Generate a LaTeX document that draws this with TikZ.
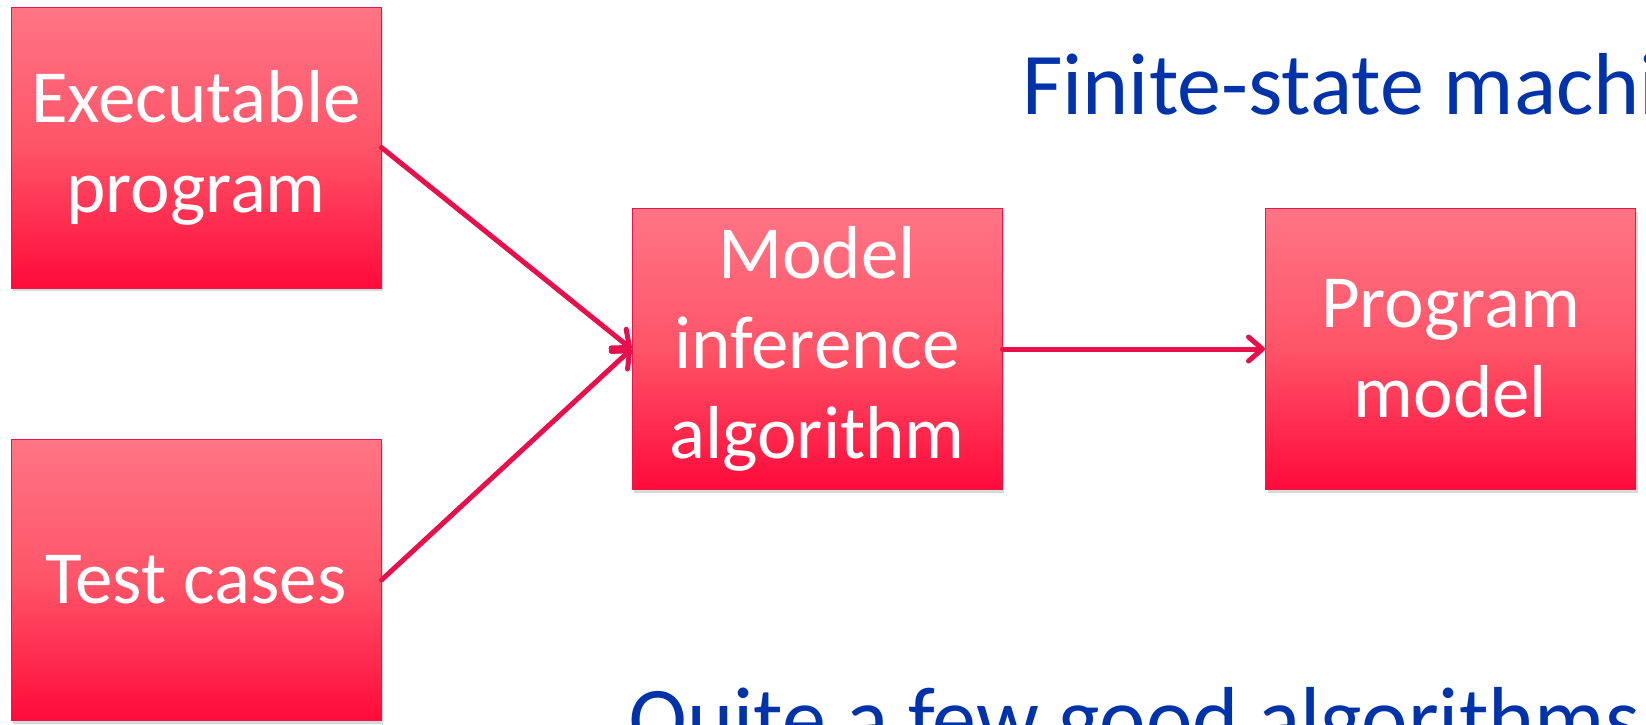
\documentclass[tikz,border=0pt]{standalone}
\usepackage{fontspec}
\setmainfont{Carlito}
\usetikzlibrary{arrows.meta,shadows}
\definecolor{boxtop}{HTML}{FF7585}
\definecolor{boxmid}{HTML}{FF5468}
\definecolor{boxbot}{HTML}{FF0A3A}
\definecolor{boxline}{HTML}{E8174A}
\definecolor{arrowc}{HTML}{E8104C}
\definecolor{titleblue}{HTML}{0033AA}
\begin{document}
\begin{tikzpicture}[x=1pt,y=-1pt,
  blk/.style={draw=boxline, line width=1pt, top color=boxtop, bottom color=boxbot, middle color=boxmid,
    minimum width=370pt, minimum height=281pt, inner sep=0pt, text=white, align=center,
    font=\fontsize{75}{90}\selectfont,
    drop shadow={shadow xshift=2pt, shadow yshift=-3pt, opacity=0.3}},
  conn/.style={draw=arrowc, line width=5pt, line cap=round,
    -{Straight Barb[length=14pt,width=24pt,round]}},
  note/.style={text=titleblue, font=\fontsize{88}{100}\selectfont, anchor=base west, inner sep=0pt}]
\path[use as bounding box, clip] (0,0) rectangle (1646,724);
\fill[white] (0,0) rectangle (1646,724);
\node[blk] (exe) at (196,147.5) {Executable\\program};
\node[blk] (test) at (196,580) {Test cases};
\node[blk] (infer) at (817,349) {Model\\inference\\algorithm};
\node[blk] (model) at (1450.5,349) {Program\\model};
\draw[conn] (exe.east) -- (infer.west);
\draw[conn] (test.east) -- (infer.west);
\draw[conn] (infer.east) -- (model.west);
\node[note] (fsm) at (1022,114) {Finite-state machines};
\node[note] (algs) at (628,748) {Quite a few good algorithms};
\end{tikzpicture}
\end{document}
